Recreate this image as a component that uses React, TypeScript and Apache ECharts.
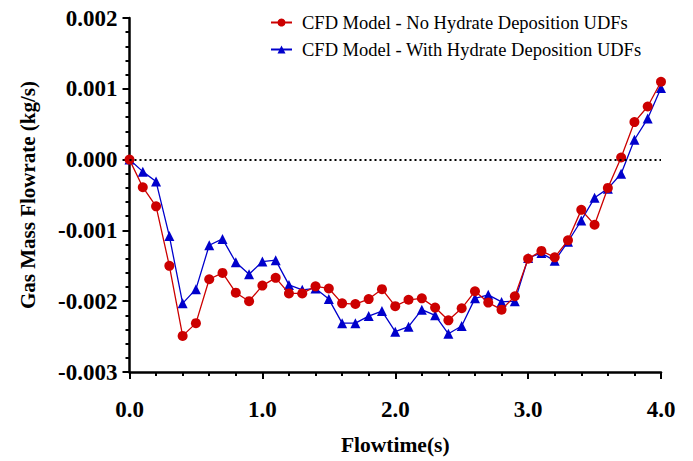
import React, { useEffect, useRef } from "react";
import * as echarts from "echarts";

const flowtime = [
  0.0, 0.1, 0.2, 0.3, 0.4, 0.5, 0.6, 0.7, 0.8, 0.9, 1.0, 1.1, 1.2, 1.3, 1.4, 1.5, 1.6, 1.7, 1.8, 1.9, 2.0,
  2.1, 2.2, 2.3, 2.4, 2.5, 2.6, 2.7, 2.8, 2.9, 3.0, 3.1, 3.2, 3.3, 3.4, 3.5, 3.6, 3.7, 3.8, 3.9, 4.0,
];

const noHydrate = [
  0.0, -0.00039, -0.00066, -0.0015, -0.00249, -0.00231, -0.00169, -0.0016, -0.00188, -0.002, -0.00178,
  -0.00167, -0.00189, -0.00189, -0.00179, -0.00182, -0.00203, -0.00204, -0.00197, -0.00183, -0.00207,
  -0.00198, -0.00196, -0.00209, -0.00227, -0.0021, -0.00186, -0.00202, -0.00212, -0.00193, -0.0014,
  -0.00129, -0.00138, -0.00114, -0.00071, -0.00092, -0.0004, 0.00003, 0.00053, 0.00075, 0.0011,
];

const withHydrate = [
  0.0, -0.00017, -0.00031, -0.00108, -0.00203, -0.00183, -0.00121, -0.00112, -0.00145, -0.00162, -0.00144,
  -0.00142, -0.00177, -0.00184, -0.00182, -0.00197, -0.00231, -0.00231, -0.00221, -0.00214, -0.00243,
  -0.00236, -0.00212, -0.0022, -0.00246, -0.00235, -0.00196, -0.00191, -0.00201, -0.002, -0.00139,
  -0.00132, -0.00143, -0.00116, -0.00086, -0.00054, -0.00041, -0.0002, 0.00028, 0.00058, 0.00101,
];

const seriesNames = [
  "CFD Model - No Hydrate Deposition UDFs",
  "CFD Model - With Hydrate Deposition UDFs",
];

const FONT = "'Liberation Serif', 'Times New Roman', serif";

export default function App() {
  const ref = useRef<HTMLDivElement>(null);
  useEffect(() => {
    if (!ref.current) return;
    const chart = echarts.init(ref.current, null, { renderer: "svg" });
    const axisLine = { show: true, onZero: false, lineStyle: { color: "#000", width: 2.5 } };
    chart.setOption({
      animation: false,
      backgroundColor: "#fff",
      grid: { left: 129.5, right: 32, top: 18, bottom: 87, containLabel: false },
      legend: {
        orient: "vertical",
        left: 265,
        top: 8,
        itemWidth: 21,
        itemHeight: 10,
        itemGap: 8,
        data: seriesNames,
        textStyle: { fontFamily: FONT, fontSize: 18.5, color: "#000", lineHeight: 18, padding: [0, 0, 0, 5] },
      },
      xAxis: {
        type: "value",
        min: 0,
        max: 4,
        interval: 1,
        name: "Flowtime(s)",
        nameLocation: "middle",
        nameGap: 62,
        nameTextStyle: { fontFamily: FONT, fontSize: 21.5, fontWeight: "bold", color: "#000" },
        axisLine,
        axisTick: { show: true, inside: false, length: 7, lineStyle: { color: "#000", width: 2 } },
        minorTick: { show: true, splitNumber: 5, length: 4, lineStyle: { color: "#000", width: 2 } },
        splitLine: { show: false },
        axisLabel: {
          margin: 26,
          fontFamily: FONT,
          fontSize: 23,
          fontWeight: "bold",
          color: "#000",
          formatter: (v: number) => v.toFixed(1),
        },
      },
      yAxis: {
        type: "value",
        min: -0.003,
        max: 0.002,
        interval: 0.001,
        name: "Gas Mass Flowrate (kg/s)",
        nameLocation: "middle",
        nameGap: 91,
        nameTextStyle: { fontFamily: FONT, fontSize: 21, fontWeight: "bold", color: "#000" },
        axisLine,
        axisTick: { show: true, inside: false, length: 7, lineStyle: { color: "#000", width: 2 } },
        minorTick: { show: true, splitNumber: 5, length: 4, lineStyle: { color: "#000", width: 2 } },
        splitLine: { show: false },
        axisLabel: {
          margin: 12,
          fontFamily: FONT,
          fontSize: 23,
          fontWeight: "bold",
          color: "#000",
          formatter: (v: number) => v.toFixed(3),
        },
      },
      series: [
        {
          name: seriesNames[1],
          type: "line",
          data: flowtime.map((t, i) => [t, withHydrate[i]]),
          symbol: "triangle",
          symbolSize: 10,
          color: "#0000cc",
          lineStyle: { color: "#0000cc", width: 1.3 },
          itemStyle: { color: "#0000cc" },
          z: 2,
          markLine: {
            silent: true,
            symbol: "none",
            label: { show: false },
            lineStyle: { color: "#000", type: [2, 3], width: 2 },
            data: [{ yAxis: 0 }],
          },
        },
        {
          name: seriesNames[0],
          type: "line",
          data: flowtime.map((t, i) => [t, noHydrate[i]]),
          symbol: "circle",
          symbolSize: 10,
          color: "#cc0000",
          lineStyle: { color: "#cc0000", width: 1.3 },
          itemStyle: { color: "#cc0000" },
          z: 3,
        },
      ],
    });
    return () => chart.dispose();
  }, []);
  return <div ref={ref} style={{ width: 693, height: 461, position: "absolute", left: 0, top: 0 }} />;
}
